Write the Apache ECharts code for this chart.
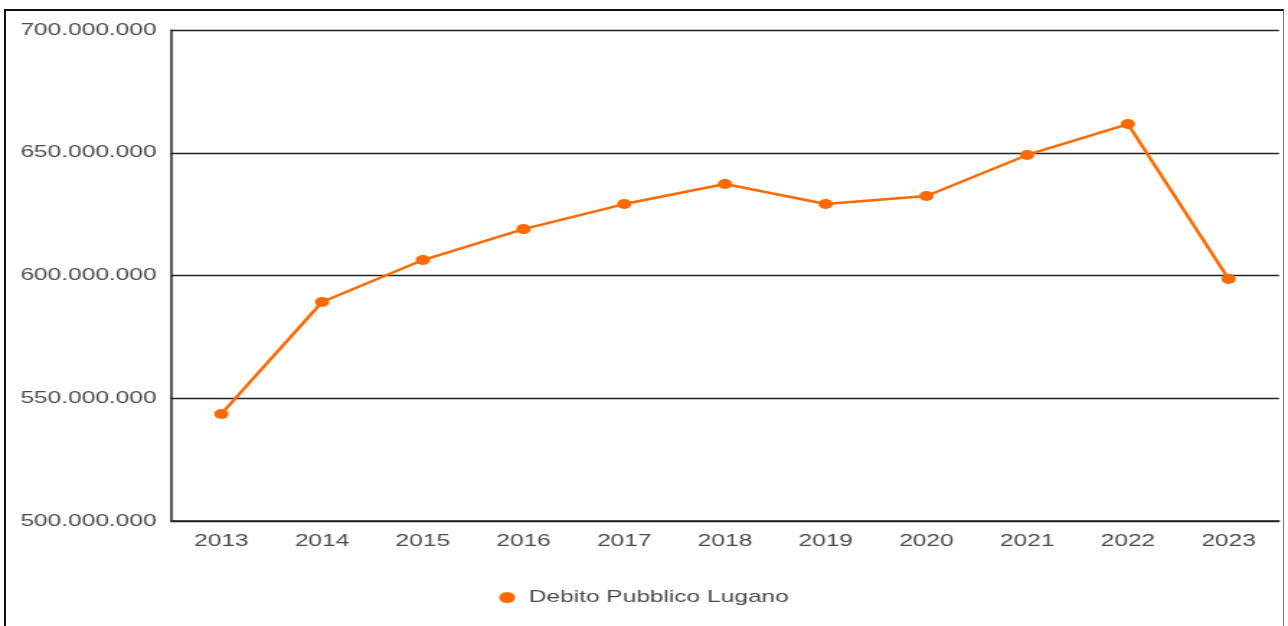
<!DOCTYPE html>
<html lang="it">
<head>
    <meta charset="utf-8">
    <title>Debito Pubblico Lugano</title>
    <style>
        html, body {
            margin: 0;
            padding: 0;
            background: #fff;
            overflow: hidden;
        }

        #frame {
            position: absolute;
            left: 4px;
            top: 9px;
            width: 1277px;
            height: 640px;
            border-left: 2px solid #111;
            border-top: 2px solid #111;
            border-right: 1px solid #777;
        }

        /* l'originale e' stirato in orizzontale: disegno stretto e poi allargo */
        #chart {
            position: absolute;
            left: 0;
            top: 0;
            width: 894px;
            height: 626px;
            transform: scaleX(1.4407);
            transform-origin: 0 0;
        }
    </style>
</head>
<body>
    <div id="frame"></div>
    <div id="chart"></div>

<script src="https://cdn.jsdelivr.net/npm/echarts@6/dist/echarts.min.js"></script>
<script>
    // dati
    var anni = ['2013', '2014', '2015', '2016', '2017', '2018', '2019', '2020', '2021', '2022', '2023'];
    var debito = [543600000, 589200000, 606300000, 618900000, 629100000, 637300000, 629100000, 632400000, 649100000, 661700000, 598600000];
    var nomeSerie = 'Debito Pubblico Lugano';

    var arancio = '#ff6a00';
    var grigioTesto = '#4a4a4a';
    var SX = 1.4407; // fattore di stiramento orizzontale

    // 700000000 -> 700.000.000
    function formatoPunti(v) {
        return String(Math.round(v)).replace(/\B(?=(\d{3})+(?!\d))/g, '.');
    }

    var myChart = echarts.init(document.getElementById('chart'));

    var option = {
        animation: false,
        textStyle: { fontFamily: '"Liberation Sans", Arial, sans-serif' },
        grid: {
            left: 171 / SX,
            right: 9 / SX,
            top: 30,
            bottom: 105,
            containLabel: false
        },
        legend: {
            data: [nomeSerie],
            top: 584,
            left: 'center',
            icon: 'circle',
            itemWidth: 20,
            itemHeight: 11,
            itemGap: 6,
            textStyle: {
                color: grigioTesto,
                fontSize: 17,
                fontFamily: '"Liberation Sans", Arial, sans-serif'
            }
        },
        xAxis: {
            type: 'category',
            data: anni,
            boundaryGap: true,
            axisLine: { lineStyle: { color: '#222', width: 1.5 } },
            axisTick: { alignWithLabel: true, length: 5, lineStyle: { color: '#222', width: 1.5 } },
            axisLabel: {
                color: grigioTesto,
                fontSize: 17,
                margin: 12
            },
            splitLine: { show: false }
        },
        yAxis: {
            type: 'value',
            min: 500000000,
            max: 700000000,
            interval: 50000000,
            axisLine: { show: true, lineStyle: { color: '#222', width: 1.5 } },
            axisTick: { show: false },
            axisLabel: {
                color: grigioTesto,
                fontSize: 17,
                margin: 10,
                padding: [3, 0, 0, 0],
                formatter: formatoPunti
            },
            splitLine: { lineStyle: { color: '#222', width: 1.3 } }
        },
        series: [{
            name: nomeSerie,
            type: 'line',
            data: debito,
            color: arancio,
            symbol: 'circle',
            symbolSize: 10,
            lineStyle: { width: 2.5, color: arancio },
            itemStyle: { color: arancio }
        }]
    };

    myChart.setOption(option);
</script>
</body>
</html>
